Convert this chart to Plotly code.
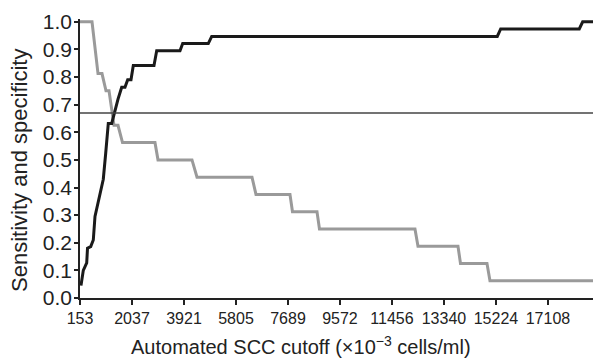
import plotly.graph_objects as go

# Specificity (grey) curve
spec_x = [153, 588, 805, 950, 1095, 1204, 1385, 1530, 1693, 2870, 2979, 4211,
          4392, 6385, 6529, 7761, 7852, 8740, 8830, 12290, 12399, 13848, 13939,
          14899, 15007, 18740]
spec_y = [1.0, 1.0, 0.8125, 0.8125, 0.75, 0.75, 0.625, 0.625, 0.5625, 0.5625,
          0.5, 0.5, 0.4375, 0.4375, 0.375, 0.375, 0.3125, 0.3125, 0.25, 0.25,
          0.1875, 0.1875, 0.125, 0.125, 0.0625, 0.0625]

# Sensitivity (black) curve
sens_x = [189, 273, 396, 425, 541, 635, 696, 878, 997, 1084, 1178, 1302, 1421,
          1530, 1664, 1783, 1881, 2001, 2084, 2834, 2932, 3776, 3874, 4801,
          4925, 15272, 15395, 18243, 18366, 18740]
sens_y = [0.045, 0.10, 0.127, 0.18, 0.186, 0.21, 0.295, 0.379, 0.43, 0.524,
          0.632, 0.632, 0.68, 0.72, 0.763, 0.763, 0.79, 0.79, 0.842, 0.842,
          0.895, 0.895, 0.921, 0.921, 0.947, 0.947, 0.974, 0.974, 1.0, 1.0]

cutoff_line = 0.67
x_ticks = [153, 2037, 3921, 5805, 7689, 9572, 11456, 13340, 15224, 17108]
y_ticks = [0.0, 0.1, 0.2, 0.3, 0.4, 0.5, 0.6, 0.7, 0.8, 0.9, 1.0]
x_title = "Automated SCC cutoff (×10<sup>−3</sup> cells/ml)"
y_title = "Sensitivity and specificity"

FONT = "Liberation Sans, Arial, sans-serif"

fig = go.Figure()
fig.add_trace(go.Scatter(x=spec_x, y=spec_y, mode="lines",
                         line=dict(color="#9a9a9a", width=3), name="Specificity"))
fig.add_trace(go.Scatter(x=sens_x, y=sens_y, mode="lines",
                         line=dict(color="#1a1a1a", width=3), name="Sensitivity"))
fig.add_shape(type="line", xref="paper", x0=0, x1=1, yref="y",
              y0=cutoff_line, y1=cutoff_line,
              line=dict(color="#444444", width=1.5))

# axis titles as annotations for precise placement
fig.add_annotation(text=x_title, xref="paper", yref="paper", x=0.431, y=0,
                   yshift=-47, xanchor="center", yanchor="middle",
                   showarrow=False, font=dict(size=20))
fig.add_annotation(text=y_title, xref="paper", yref="paper", x=-0.117, y=0.459,
                   textangle=-90, xanchor="center", yanchor="middle",
                   showarrow=False, font=dict(size=22))

fig.update_layout(
    width=593, height=360,
    margin=dict(l=80, r=0, t=19, b=62),
    paper_bgcolor="white", plot_bgcolor="white",
    showlegend=False,
    font=dict(family=FONT, color="#222222"),
)
fig.update_xaxes(
    automargin=False,
    range=[153, 18740], tickvals=x_ticks, ticktext=[str(v) for v in x_ticks],
    showgrid=False, zeroline=False, showline=True, linecolor="#222222", linewidth=1.5,
    ticks="outside", ticklen=5, tickcolor="#222222", tickwidth=1.5,
    tickfont=dict(size=16),
)
fig.update_yaxes(
    automargin=False,
    range=[0, 1.01], tickvals=y_ticks, tickformat=".1f",
    showgrid=False, zeroline=False, showline=True, linecolor="#222222", linewidth=1.5,
    ticks="outside", ticklen=4, tickcolor="#222222", tickwidth=1.5,
    tickfont=dict(size=21), ticklabelstandoff=-2,
)

fig.write_html("out.html",
               config={"displayModeBar": False},
               post_script="document.body.style.margin='0';"
                           "document.body.style.overflow='hidden';")
